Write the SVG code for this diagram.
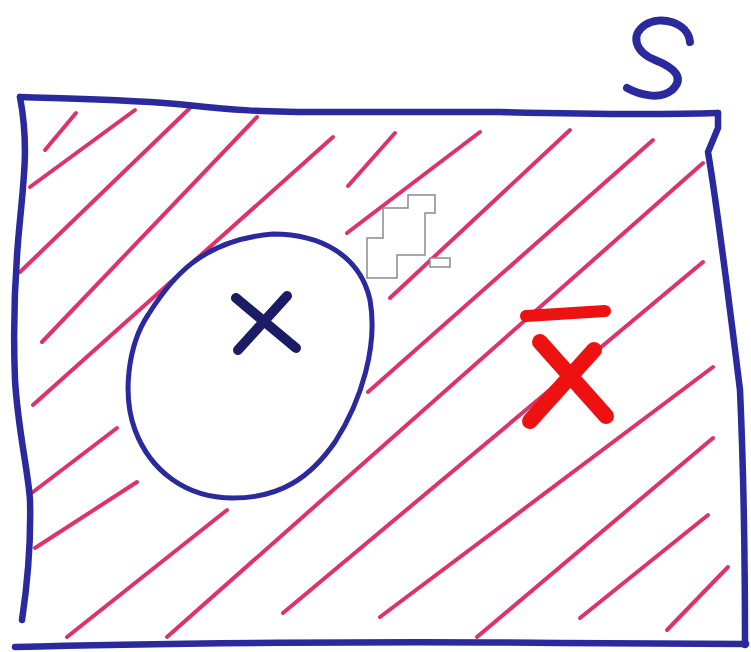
<svg xmlns="http://www.w3.org/2000/svg" width="751" height="652" viewBox="0 0 751 652">
  <style>
    .hatch { stroke: #e0316a; stroke-width: 4; stroke-linecap: round; fill: none; }
    .blue { stroke: #2a2a9e; fill: none; stroke-linecap: round; stroke-linejoin: round; }
    .red { stroke: #ee1111; fill: none; stroke-linecap: round; }
  </style>
  <rect width="751" height="652" fill="#ffffff"/>

  <g id="hatching">
    <line class="hatch" x1="45" y1="150" x2="76" y2="113"/>
    <line class="hatch" x1="30" y1="187" x2="135" y2="110"/>
    <line class="hatch" x1="20" y1="272" x2="190" y2="108"/>
    <line class="hatch" x1="42" y1="342" x2="257" y2="117"/>
    <line class="hatch" x1="33" y1="405" x2="333" y2="137"/>
    <line class="hatch" x1="33" y1="492" x2="117" y2="428"/>
    <line class="hatch" x1="35" y1="548" x2="137" y2="482"/>
    <line class="hatch" x1="67" y1="637" x2="227" y2="510"/>
    <line class="hatch" x1="167" y1="637" x2="703" y2="163"/>
    <line class="hatch" x1="348" y1="186" x2="395" y2="133"/>
    <line class="hatch" x1="347" y1="233" x2="480" y2="132"/>
    <line class="hatch" x1="390" y1="298" x2="570" y2="130"/>
    <line class="hatch" x1="368" y1="392" x2="653" y2="140"/>
    <line class="hatch" x1="283" y1="613" x2="703" y2="262"/>
    <line class="hatch" x1="380" y1="617" x2="713" y2="367"/>
    <line class="hatch" x1="477" y1="637" x2="713" y2="438"/>
    <line class="hatch" x1="580" y1="618" x2="708" y2="515"/>
    <line class="hatch" x1="667" y1="630" x2="728" y2="567"/>
  </g>

  <g id="set-S">
    <path class="blue" stroke-width="6.5" d="M 20,97 C 80,99 140,100 187,105 C 230,110 260,112 330,112 L 500,112 C 580,114 650,115 718,113"/>
    <path class="blue" stroke-width="6.5" d="M 718,113 L 718,128 L 708,152 C 716,200 724,260 740,390 C 744,480 745,560 745,645"/>
    <path class="blue" stroke-width="6.5" d="M 20,97 C 28,140 25,170 20,220 C 15,270 13,330 15,380 C 18,430 28,470 30,500 C 31,540 28,580 22,620"/>
    <path class="blue" stroke-width="6.5" d="M 15,647 C 150,643 400,641 560,643 C 650,644 700,644 746,644"/>
    <path class="blue" stroke-width="8" stroke="#1e1e80" d="M 690,42 C 688,22 660,15 645,25 C 630,35 635,52 655,60 C 675,68 685,78 672,90 C 660,100 640,95 627,88"/>
  </g>

  <g id="set-X">
    <path class="blue" stroke-width="5" fill="#ffffff" d="M 273,234 C 320,234 360,255 370,300 C 378,345 362,400 335,442 C 310,478 280,498 233,498 C 185,498 150,470 135,430 C 122,395 128,345 148,315 C 170,280 200,240 273,234 Z"/>
    <g stroke="#1c1c66" stroke-width="10" stroke-linecap="round">
      <line x1="236" y1="298" x2="296" y2="348"/>
      <line x1="287" y1="296" x2="238" y2="350"/>
    </g>
  </g>

  <g id="complement-label">
    <line class="red" stroke-width="12" x1="526" y1="316" x2="605" y2="311"/>
    <line class="red" stroke-width="16" x1="540" y1="342" x2="606" y2="416"/>
    <line class="red" stroke-width="16" x1="594" y1="350" x2="530" y2="421"/>
  </g>

  <g id="patch">
    <polygon points="408,195 435,195 435,213 425,213 425,255 397,255 397,278 367,278 367,238 383,238 383,208 408,208" fill="#ffffff" stroke="#8a8a8a" stroke-width="1.5"/>
    <rect x="430" y="258" width="20" height="9" fill="#ffffff" stroke="#8a8a8a" stroke-width="1.5"/>
  </g>
</svg>
